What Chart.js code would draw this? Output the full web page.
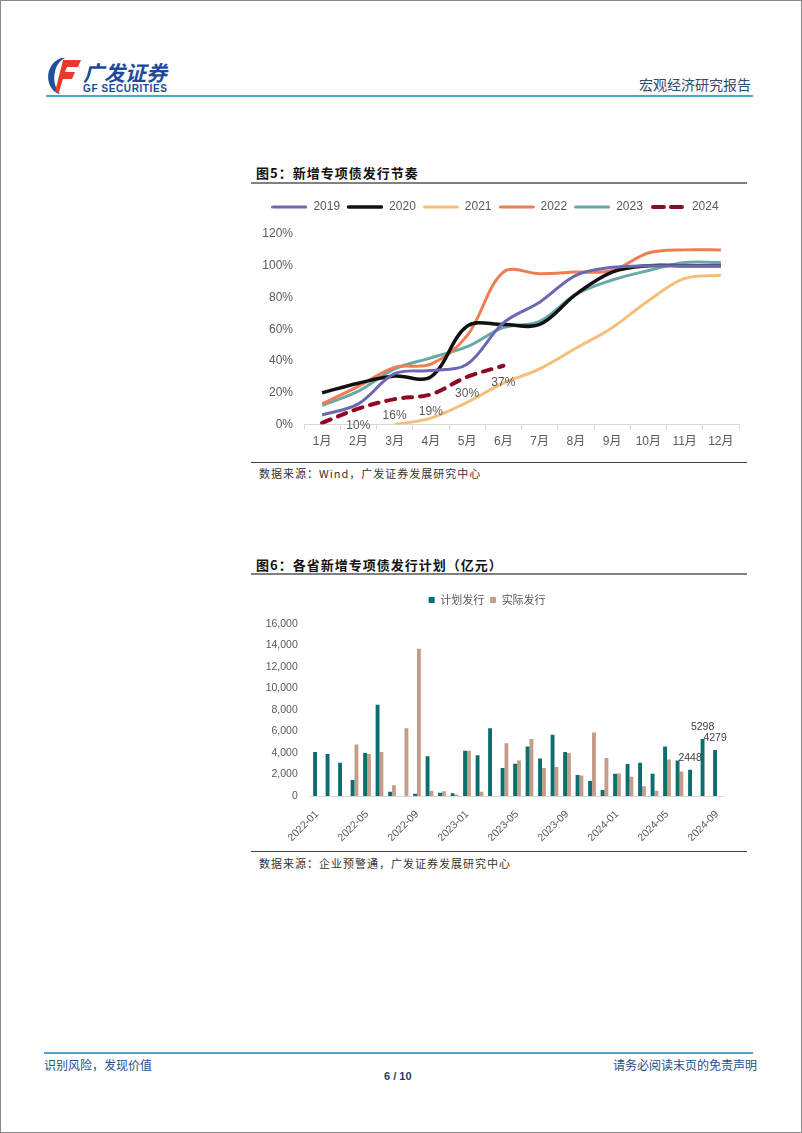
<!DOCTYPE html>
<html>
<head>
<meta charset="utf-8">
<script src="https://cdn.jsdelivr.net/npm/chart.js@4.4.1/dist/chart.umd.min.js"></script>
<style>
body { margin: 0; background: #fff; }
#page { position: relative; width: 802px; height: 1133px; border: 1px solid #8a8a8a; box-sizing: border-box; overflow: hidden; font-family: "Noto Sans CJK SC", "Liberation Sans", sans-serif; }
.t { position: absolute; white-space: nowrap; }
.rule { position: absolute; }
.figTitle { font-size: 13px; font-weight: bold; color: #111; letter-spacing: 1px; }
.src { font-size: 11px; color: #333; letter-spacing: 1px; }
.box { position: absolute; }
</style>
</head>
<body>
<div id="page">
  <!-- header -->
  <svg width="36" height="38" viewBox="0 0 36 38" style="position:absolute;left:45px;top:55px">
    <path d="M15 2 C5 6 0 16 3 27 C5 33 9 37 14 38 C9 32 7 24 9 16 C10 10 13 5 19 2 Z" fill="#1F4F9F"/>
    <path d="M17 4 L35 4 L32 11 L21 11 L19 16 L29 16 L26 23 L17 23 L13 36 L9 36 Z" fill="#E8392C"/>
  </svg>
  <div class="t" style="left:82px;top:56px;font-size:21px;font-weight:bold;font-style:italic;color:#1E4A9A;">广发证券</div>
  <div class="t" style="left:82px;top:83px;font-size:10px;font-weight:bold;color:#1E4A9A;font-family:'Liberation Sans',sans-serif;letter-spacing:0.6px;line-height:10px;">GF SECURITIES</div>
  <div class="t" style="left:638px;top:73px;font-size:14px;color:#2F4A6A;">宏观经济研究报告</div>
  <div class="rule" style="left:45px;top:94px;width:707px;height:2px;background:#4FA3C9;"></div>

  <!-- figure 5 -->
  <div class="t figTitle" style="left:255px;top:162px;">图5：新增专项债发行节奏</div>
  <div class="rule" style="left:250px;top:181px;width:496px;height:1.5px;background:#808080;"></div>
  <div class="box" style="left:250px;top:190px;width:500px;height:265px;"><canvas id="lineChart"></canvas></div>
  <div class="rule" style="left:250px;top:461px;width:496px;height:1px;background:#404040;"></div>
  <div class="t src" style="left:258px;top:464px;">数据来源：Wind，广发证券发展研究中心</div>

  <!-- figure 6 -->
  <div class="t figTitle" style="left:255px;top:554px;">图6：各省新增专项债发行计划（亿元）</div>
  <div class="rule" style="left:250px;top:572px;width:496px;height:1.5px;background:#808080;"></div>
  <div class="box" style="left:250px;top:585px;width:500px;height:260px;"><canvas id="barChart"></canvas></div>
  <div class="rule" style="left:250px;top:850px;width:496px;height:1px;background:#404040;"></div>
  <div class="t src" style="left:258px;top:854px;">数据来源：企业预警通，广发证券发展研究中心</div>

  <!-- footer -->
  <div class="rule" style="left:43px;top:1051px;width:709px;height:2px;background:#4FA3C9;"></div>
  <div class="t" style="left:43px;top:1055px;font-size:12px;color:#1F4E8C;">识别风险，发现价值</div>
  <div class="t" style="left:612px;top:1055px;font-size:12px;color:#1F4E8C;">请务必阅读末页的免责声明</div>
  <div class="t" style="left:383px;top:1069px;font-size:11px;font-weight:bold;color:#1F3F6F;font-family:'Liberation Sans',sans-serif;">6 / 10</div>
</div>

<script>
// --- Figure 5 data (cumulative issuance progress, %) ---
const months = ['1月', '2月', '3月', '4月', '5月', '6月', '7月', '8月', '9月', '10月', '11月', '12月'];
const y2019 = [6, 13, 32, 34, 38, 64, 77, 94, 99, 100, 100, 100];
const y2020 = [20, 26, 30.5, 30, 62, 63, 63, 82, 96, 100, 100, 100];
const y2021 = [null, null, 0, 4, 14, 26, 35, 48, 61, 78, 92, 94];
const y2022 = [13, 24, 36, 38, 56, 96, 95, 96, 97, 108, 110, 110];
const y2023 = [12, 21, 35, 42, 49, 61, 65, 82, 91, 97, 102, 102];
const y2024 = [1, 10, 16, 19, 30, 37];
const pctTicks = [0, 20, 40, 60, 80, 100, 120];

// --- Figure 6 data (亿元) ---
const periods = ['2022-01', '2022-02', '2022-03', '2022-04', '2022-05', '2022-06', '2022-07', '2022-08', '2022-09', '2022-10', '2022-11', '2022-12',
                 '2023-01', '2023-02', '2023-03', '2023-04', '2023-05', '2023-06', '2023-07', '2023-08', '2023-09', '2023-10', '2023-11', '2023-12',
                 '2024-01', '2024-02', '2024-03', '2024-04', '2024-05', '2024-06', '2024-07', '2024-08', '2024-09'];
const planned = [4100, 3900, 3100, 1500, 4000, 8500, 400, 0, 200, 3700, 300, 250,
                 4200, 3800, 6300, 2600, 3000, 4600, 3500, 5700, 4100, 1950, 1400, 560,
                 2080, 2980, 3100, 2080, 4600, 3300, 2448, 5298, 4279];
const actual = [0, 0, 0, 4800, 3900, 4100, 1000, 6300, 13700, 500, 450, 150,
                4200, 400, 0, 4900, 3300, 5300, 2600, 2700, 4000, 1900, 5900, 3540,
                2100, 1800, 900, 500, 3400, 2270, null, null, null];
const labelIdx = [30, 31, 32];

const FONT = "'Liberation Sans', Arial, 'Noto Sans CJK SC', sans-serif";
Chart.defaults.font.family = FONT;
Chart.defaults.color = '#595959';
Chart.defaults.animation = false;

// extra space between legend and plot
function legendGap(extra) {
    return { id: 'legendGap', beforeInit(chart) {
        const fit = chart.legend.fit;
        chart.legend.fit = function () { fit.call(this); this.height += extra; };
    } };
}

// small line sample used as the legend symbol
function legendLine(color, width, dashed) {
    const c = document.createElement('canvas');
    c.width = 36; c.height = 8;
    const g = c.getContext('2d');
    g.strokeStyle = color; g.lineWidth = width; g.lineCap = 'round';
    g.beginPath();
    if (dashed) { g.moveTo(3, 4); g.lineTo(14, 4); g.moveTo(21, 4); g.lineTo(32, 4); }
    else { g.moveTo(1.5, 4); g.lineTo(34.5, 4); }
    g.stroke();
    return c;
}

const lineLabels = {
    id: 'lineLabels',
    afterDatasetsDraw(chart) {
        const meta = chart.getDatasetMeta(5), ctx = chart.ctx;
        ctx.save();
        ctx.font = '12px ' + FONT;
        ctx.fillStyle = '#595959';
        ctx.textAlign = 'center'; ctx.textBaseline = 'middle';
        meta.data.forEach((pt, i) => { if (i > 0) ctx.fillText(y2024[i] + '%', pt.x, pt.y + 17); });
        ctx.restore();
    }
};

const barLabels = {
    id: 'barLabels',
    afterDatasetsDraw(chart) {
        const meta = chart.getDatasetMeta(0), ctx = chart.ctx;
        ctx.save();
        ctx.font = '10.5px ' + FONT;
        ctx.fillStyle = '#404040';
        ctx.textAlign = 'center'; ctx.textBaseline = 'middle';
        labelIdx.forEach(i => { const b = meta.data[i]; ctx.fillText(String(planned[i]), b.x, b.y - 12); });
        ctx.restore();
    }
};

const line = (label, data, color, w, extra) => Object.assign({
    label, data, borderColor: color, backgroundColor: color, borderWidth: w,
    pointRadius: 0, tension: 0.35, spanGaps: false
}, extra || {});

new Chart(document.getElementById('lineChart'), {
    type: 'line',
    data: {
        labels: months,
        datasets: [
            line('2019', y2019, '#6C68B0', 3),
            line('2020', y2020, '#111111', 3.5),
            line('2021', y2021, '#F6BE7A', 3),
            line('2022', y2022, '#EF7D53', 3),
            line('2023', y2023, '#68A9A8', 3),
            line('2024', y2024, '#8E0A22', 4, { borderDash: [9, 8], borderCapStyle: 'round' })
        ]
    },
    options: {
        responsive: true, maintainAspectRatio: false,
        layout: { padding: { top: 3, right: 12, left: 0, bottom: 0 } },
        plugins: {
            legend: { position: 'top', labels: {
                usePointStyle: true, pointStyleWidth: 36, padding: 7, color: '#595959', font: { size: 12 },
                generateLabels: chart => Chart.defaults.plugins.legend.labels.generateLabels(chart).map((it, i) => {
                    const ds = chart.data.datasets[i];
                    it.pointStyle = legendLine(ds.borderColor, ds.borderWidth, !!ds.borderDash);
                    return it;
                })
            } },
            tooltip: { enabled: false }
        },
        scales: {
            x: {
                offset: true,
                grid: { display: true, drawOnChartArea: false, drawTicks: true, tickLength: 5, offset: true, color: '#d9d9d9' },
                border: { color: '#d9d9d9' },
                ticks: { padding: 5, font: { size: 12 }, color: '#595959' },
                afterFit: s => { s.height = 31.5; }
            },
            y: {
                min: 0, max: 120,
                afterBuildTicks: s => { s.ticks = pctTicks.map(v => ({ value: v })); },
                grid: { display: false, drawTicks: false },
                border: { display: false },
                ticks: { padding: 11, font: { size: 12 }, color: '#595959', callback: v => v + '%' },
                afterFit: s => { s.width = 53; }
            }
        }
    },
    plugins: [legendGap(11), lineLabels]
});

new Chart(document.getElementById('barChart'), {
    type: 'bar',
    data: {
        labels: periods,
        datasets: [
            { label: '计划发行', data: planned, backgroundColor: '#0B6F6F', categoryPercentage: 0.62, barPercentage: 1.0 },
            { label: '实际发行', data: actual, backgroundColor: '#C59C88', categoryPercentage: 0.62, barPercentage: 1.0 }
        ]
    },
    options: {
        responsive: true, maintainAspectRatio: false,
        layout: { padding: { top: 2.5, right: 27.75, left: 0, bottom: 0 } },
        plugins: {
            legend: { position: 'top', labels: { usePointStyle: true, pointStyle: 'rect', boxWidth: 6, boxHeight: 6, padding: 6, color: '#595959',
                font: { size: 11, family: "'Noto Sans CJK SC', sans-serif" } } },
            tooltip: { enabled: false }
        },
        scales: {
            x: {
                grid: { display: false },
                border: { color: '#d9d9d9' },
                ticks: { autoSkip: false, maxRotation: 45, minRotation: 45, padding: 4, font: { size: 10.5 }, color: '#595959',
                    callback: (v, i) => (i % 4 === 0 ? periods[i] : '') },
                afterFit: s => { s.height = 50; }
            },
            y: {
                min: 0, max: 16000,
                ticks: { stepSize: 2000, padding: 13, font: { size: 10.5 }, color: '#595959', callback: v => v.toLocaleString('en-US') },
                grid: { display: false, drawTicks: false },
                border: { display: false },
                afterFit: s => { s.width = 59.75; }
            }
        }
    },
    plugins: [legendGap(8.5), barLabels]
});
</script>
</body>
</html>
